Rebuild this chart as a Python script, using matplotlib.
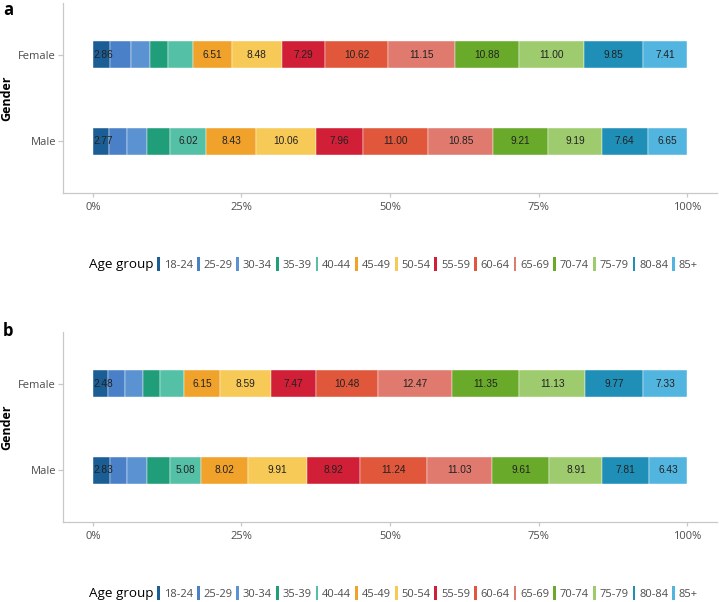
import matplotlib
matplotlib.use("Agg")
import matplotlib.pyplot as plt
from matplotlib.patches import Rectangle

plt.rcParams['font.family'] = ['Open Sans', 'DejaVu Sans']

# DATOS
age_groups = ['18-24', '25-29', '30-34', '35-39', '40-44', '45-49', '50-54',
              '55-59', '60-64', '65-69', '70-74', '75-79', '80-84', '85+']
colors = ['#1b5e96', '#4a80c8', '#5b93d2', '#1f9e79', '#54c0a6', '#f0a22a', '#f7c956',
          '#d01f36', '#e0573b', '#e07a6f', '#6aaa2a', '#9ecb6e', '#208fb8', '#52b5e0']
genders = ['Male', 'Female']

a_female = [2.86, 3.52, 3.18, 3.15, 4.10, 6.51, 8.48, 7.29, 10.62, 11.15, 10.88, 11.00, 9.85, 7.41]
a_male = [2.77, 3.00, 3.33, 3.89, 6.02, 8.43, 10.06, 7.96, 11.00, 10.85, 9.21, 9.19, 7.64, 6.65]
b_female = [2.48, 2.91, 2.97, 2.86, 4.04, 6.15, 8.59, 7.47, 10.48, 12.47, 11.35, 11.13, 9.77, 7.33]
b_male = [2.83, 2.86, 3.42, 3.93, 5.08, 8.02, 9.91, 8.92, 11.24, 11.03, 9.61, 8.91, 7.81, 6.43]

xticks = [0, 25, 50, 75, 100]
xticklabels = ['0%', '25%', '50%', '75%', '100%']

grey = '#c8c8c8'
txt = '#4d4d4d'


def panel(ax, male, female):
    for yi, vals in enumerate([male, female]):
        left = 0
        for k, v in enumerate(vals):
            ax.barh(yi, v, left=left, height=0.31, color=colors[k],
                    edgecolor='white', linewidth=0.3)
            if k == 0:
                ax.text(left + 0.1, yi, '%.2f' % v, ha='left', va='center',
                        fontsize=7.3, color='#222222', family='Liberation Sans')
            elif v >= 5:
                ax.text(left + v / 2, yi, '%.2f' % v, ha='center', va='center',
                        fontsize=7.3, color='#222222', family='Liberation Sans')
            left += v
    ax.set_xlim(-5.05, 105.05)
    ax.set_ylim(-0.6, 1.6)
    ax.set_yticks([0, 1])
    ax.set_yticklabels(genders)
    ax.set_xticks(xticks)
    ax.set_xticklabels(xticklabels)
    for s in ['top', 'right']:
        ax.spines[s].set_visible(False)
    for s in ['left', 'bottom']:
        ax.spines[s].set_color(grey)
        ax.spines[s].set_linewidth(0.9)
    ax.tick_params(axis='x', colors=grey, labelcolor=txt, labelsize=8, length=3, pad=3.5, width=0.9)
    ax.tick_params(axis='y', colors=grey, labelcolor=txt, labelsize=8, length=3.5, pad=1.5, width=0.9)
    ax.set_ylabel('Gender', fontsize=9, fontweight='bold', color='black')
    ax.yaxis.set_label_coords(-0.0765, 0.5)

    handles = [Rectangle((0, 0), 1, 1, alpha=0)] + \
              [Rectangle((0, 0), 1, 1, fc=c, ec='none') for c in colors]
    labels = ['Age group'] + age_groups
    leg = ax.legend(handles, labels, loc='center', bbox_to_anchor=(0.5, -0.374),
                    ncol=15, frameon=False, fontsize=8, handlelength=0.25,
                    handleheight=1.5, handletextpad=0.35, columnspacing=0.35,
                    borderpad=0, borderaxespad=0)
    for t in leg.get_texts():
        t.set_color(txt)
    leg.get_texts()[0].set_fontsize(9.7)
    leg.get_texts()[0].set_color('black')


fig = plt.figure(figsize=(7.19, 6.02), dpi=100)
ax1 = fig.add_axes([63 / 719, 1 - 193 / 602, 654 / 719, 190 / 602])
ax2 = fig.add_axes([63 / 719, 1 - 522 / 602, 654 / 719, 190 / 602])
panel(ax1, a_male, a_female)
panel(ax2, b_male, b_female)
fig.text(3 / 719, 1 - 1 / 602, 'a', fontsize=12, fontweight='bold', ha='left', va='top')
fig.text(3 / 719, 1 - 322 / 602, 'b', fontsize=12, fontweight='bold', ha='left', va='top')

fig.savefig('out.png', dpi=100)
